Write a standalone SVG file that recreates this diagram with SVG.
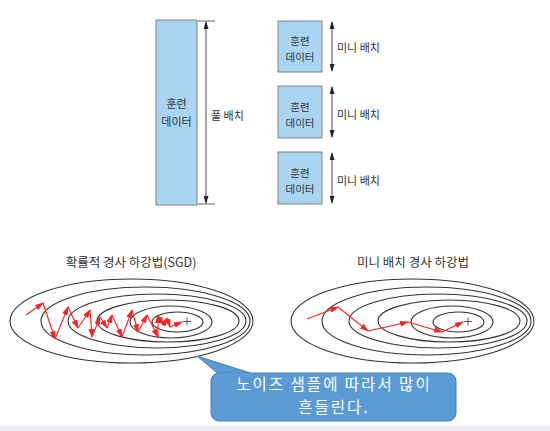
<svg xmlns="http://www.w3.org/2000/svg" width="550" height="431" viewBox="0 0 550 431">
<style>
.data{fill:#a9d5f2;stroke:#808080;stroke-width:1}
.lbl{font-family:"Noto Sans CJK KR","Noto Sans",sans-serif;fill:#333;font-size:11px}
.sm{font-size:10.5px}
.ttl{font-family:"Noto Sans CJK KR","Noto Sans",sans-serif;fill:#333;font-size:12.5px}
.dim{stroke:#333;stroke-width:0.9;fill:none;marker-start:url(#ka);marker-end:url(#ka)}
.tick{stroke:#555;stroke-width:0.9}
.ell{fill:none;stroke:#333;stroke-width:1.1}
.red{stroke:#f22;stroke-width:1.1;fill:none;marker-end:url(#ra)}
.plus{stroke:#444;stroke-width:0.9}
.call{font-family:"Noto Sans CJK KR","Noto Sans",sans-serif;fill:#fff;font-size:15.5px;letter-spacing:2px}
</style>
<defs>
<marker id="ka" markerUnits="userSpaceOnUse" markerWidth="8" markerHeight="5" refX="7" refY="2.5" orient="auto-start-reverse"><path d="M0,0 L8,2.5 L0,5 z" fill="#222"/></marker>
<marker id="ra" markerUnits="userSpaceOnUse" markerWidth="9" markerHeight="6" refX="8" refY="3" orient="auto"><path d="M0,0 L9,3 L0,6 z" fill="#f22"/></marker>
<g id="contours">
<ellipse class="ell" cx="131.5" cy="321" rx="121.5" ry="42"/>
<ellipse class="ell" cx="145.5" cy="321" rx="104.5" ry="34"/>
<ellipse class="ell" cx="157" cy="321" rx="89" ry="27"/>
<ellipse class="ell" cx="168" cy="321" rx="71" ry="21"/>
<ellipse class="ell" cx="171" cy="322" rx="41" ry="16"/>
<ellipse class="ell" cx="177.5" cy="322" rx="25.5" ry="10"/>
<path class="plus" d="M183,321.5 H191 M187,317.5 V325.5"/>
</g>
</defs>
<rect x="0" y="426" width="550" height="5" fill="#ececf1"/>

<g id="full-batch">
<rect class="data" x="156" y="20" width="41" height="185"/>
<text class="lbl" x="176.5" y="108" text-anchor="middle" font-size="12">훈련</text>
<text class="lbl" x="176.5" y="126" text-anchor="middle" font-size="12">데이터</text>
</g>
<g id="mini1">
<rect class="data" x="278" y="21" width="44" height="51"/>
<text class="lbl sm" x="300" y="45" text-anchor="middle">훈련</text>
<text class="lbl sm" x="300" y="60.5" text-anchor="middle">데이터</text>
</g>
<g id="mini2">
<rect class="data" x="278" y="86" width="44" height="52"/>
<text class="lbl sm" x="300" y="111" text-anchor="middle">훈련</text>
<text class="lbl sm" x="300" y="126.5" text-anchor="middle">데이터</text>
</g>
<g id="mini3">
<rect class="data" x="278" y="152" width="44" height="52"/>
<text class="lbl sm" x="300" y="177" text-anchor="middle">훈련</text>
<text class="lbl sm" x="300" y="192.5" text-anchor="middle">데이터</text>
</g>

<g id="labels">
<text class="lbl" x="211" y="120">풀 배치</text>
<text class="lbl" x="337" y="52">미니 배치</text>
<text class="lbl" x="337" y="119">미니 배치</text>
<text class="lbl" x="337" y="185">미니 배치</text>
<text class="ttl" x="131" y="267" text-anchor="middle">확률적 경사 하강법(SGD)</text>
<text class="ttl" x="413" y="267" text-anchor="middle">미니 배치 경사 하강법</text>
</g>

<g id="connectors">
<line class="tick" x1="198" y1="21" x2="215" y2="21"/>
<line class="tick" x1="198" y1="204" x2="215" y2="204"/>
<line class="dim" x1="206" y1="22" x2="206" y2="203"/>
<line class="dim" x1="332" y1="22" x2="332" y2="71"/>
<line class="dim" x1="332" y1="87" x2="332" y2="137"/>
<line class="dim" x1="332" y1="153" x2="332" y2="203"/>
</g>

<g id="sgd-plot">
<use href="#contours"/>
<g id="sgd-path">
<line class="red" x1="26" y1="315" x2="43" y2="303"/>
<line class="red" x1="43" y1="303" x2="55" y2="339"/>
<line class="red" x1="55" y1="339" x2="68" y2="307"/>
<line class="red" x1="68" y1="307" x2="78" y2="328"/>
<line class="red" x1="78" y1="328" x2="90" y2="310"/>
<line class="red" x1="90" y1="310" x2="92" y2="337"/>
<line class="red" x1="92" y1="337" x2="100" y2="317"/>
<line class="red" x1="100" y1="317" x2="107" y2="328"/>
<line class="red" x1="107" y1="328" x2="112" y2="315"/>
<line class="red" x1="112" y1="315" x2="122" y2="337"/>
<line class="red" x1="122" y1="337" x2="132" y2="310"/>
<line class="red" x1="132" y1="310" x2="138" y2="332"/>
<line class="red" x1="138" y1="332" x2="147" y2="315"/>
<line class="red" x1="147" y1="315" x2="158" y2="337"/>
<line class="red" x1="158" y1="337" x2="158" y2="315"/>
<line class="red" x1="158" y1="315" x2="163" y2="325"/>
<line class="red" x1="163" y1="325" x2="167" y2="318"/>
<line class="red" x1="167" y1="318" x2="170" y2="327"/>
<line class="red" x1="170" y1="327" x2="182" y2="322"/>
</g>
</g>

<g id="minibatch-plot">
<use href="#contours" x="281"/>
<g id="mb-path">
<line class="red" x1="307" y1="319" x2="338" y2="307"/>
<line class="red" x1="338" y1="307" x2="368" y2="331"/>
<line class="red" x1="368" y1="331" x2="408" y2="322"/>
<line class="red" x1="408" y1="322" x2="442" y2="332"/>
<line class="red" x1="442" y1="332" x2="463" y2="322"/>
</g>
</g>

<g id="callout">
<path d="M197,356 L252,373.5 L218,373.5 Z" fill="#5b9bd5" stroke="#4a7fb0" stroke-width="1"/>
<rect x="211" y="373" width="245" height="48" rx="8" fill="#5b9bd5" stroke="#4a7fb0" stroke-width="1"/>
<path d="M218,374 L252,374" stroke="#5b9bd5" stroke-width="2"/>
<text class="call" x="334" y="390" text-anchor="middle">노이즈 샘플에 따라서 많이</text>
<text class="call" x="334" y="413" text-anchor="middle">흔들린다.</text>
</g>
</svg>
